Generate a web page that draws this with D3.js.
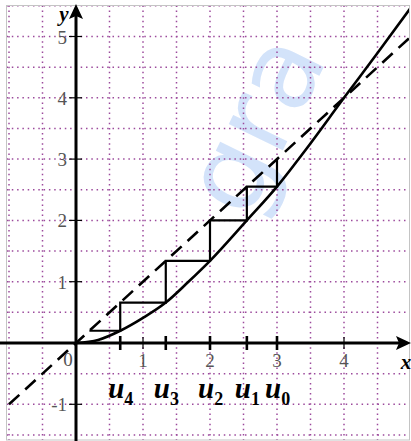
<!DOCTYPE html>
<html>
<head>
<meta charset="utf-8">
<style>
  html, body { margin: 0; padding: 0; background: #fff; }
  svg { display: block; }
  .tick-label { font-family: "Liberation Serif", "DejaVu Serif", serif; font-size: 19px; fill: #555; }
  .axis-name { font-family: "Liberation Serif", serif; font-size: 21px; font-weight: bold; font-style: italic; }
  .u-label { font-family: "Liberation Serif", serif; font-weight: bold; font-style: italic; }
</style>
</head>
<body>
<div id="chart"></div>
<script src="https://cdn.jsdelivr.net/npm/d3@7"></script>
<script>
const w = 411;
const h = 441;

// the curve y = f(x)
const curveX = [0, 0.33, 0.66, 1, 1.34, 1.67, 2, 2.55, 3, 3.42, 4, 4.5, 5.05];
const curveY = [0, 0.05, 0.2, 0.41, 0.66, 0.99, 1.34, 2.0, 2.55, 3.14, 4.0, 4.73, 5.55];

// the sequence u0, u1, ... (staircase)
const seq = [3, 2.55, 2.0, 1.34, 0.66, 0.2];
const seqNames = ["0", "1", "2", "3", "4"];

const xTicks = [1, 2, 3, 4];
const yTicks = [-1, 1, 2, 3, 4, 5];
const gridStepsX = d3.range(-2, 11).map((d) => d / 2);   // -1 .. 5
const gridStepsY = d3.range(-3, 12).map((d) => d / 2);   // -1.5 .. 5.5
const diagEnds = [-1, 5.1];

// one unit = 67px horizontally, ~61.3px vertically
const x = d3.scaleLinear().domain([0, 1]).range([76, 143]);
const y = d3.scaleLinear().domain([0, 1]).range([343, 281.7]);

const frame = { x0: 6.5, y0: 5.5, x1: 409.5, y1: 440 };

const svg = d3.select("#chart").append("svg")
  .attr("width", w)
  .attr("height", h)
  .attr("viewBox", "0 0 " + w + " " + h);

const defs = svg.append("defs");
defs.append("clipPath").attr("id", "frameclip")
  .append("rect")
  .attr("x", frame.x0).attr("y", frame.y0)
  .attr("width", frame.x1 - frame.x0).attr("height", frame.y1 - frame.y0);

// watermark
svg.append("text")
  .attr("transform", "translate(248,222) rotate(-64)")
  .style("font-family", "'DejaVu Sans', sans-serif")
  .style("font-size", "110px")
  .style("fill", "#d3e3fa")
  .text("gra");

const plot = svg.append("g").attr("clip-path", "url(#frameclip)");

// dotted grid
plot.append("g").selectAll("line")
  .data(gridStepsX)
  .enter()
  .append("line")
  .attr("x1", (d) => x(d)).attr("x2", (d) => x(d))
  .attr("y1", frame.y0).attr("y2", frame.y1)
  .attr("stroke", "#9c4a9c")
  .attr("stroke-width", 1.5)
  .attr("stroke-dasharray", "1.5,3.6");

plot.append("g").selectAll("line")
  .data(gridStepsY)
  .enter()
  .append("line")
  .attr("y1", (d) => y(d)).attr("y2", (d) => y(d))
  .attr("x1", frame.x0).attr("x2", frame.x1)
  .attr("stroke", "#9c4a9c")
  .attr("stroke-width", 1.5)
  .attr("stroke-dasharray", "1.5,3.8");

// frame
svg.append("rect")
  .attr("x", frame.x0).attr("y", frame.y0)
  .attr("width", frame.x1 - frame.x0).attr("height", frame.y1 - frame.y0)
  .attr("fill", "none")
  .attr("stroke", "#c4c4c4")
  .attr("stroke-width", 1);

// y = x dashed
plot.append("line")
  .attr("x1", x(diagEnds[0])).attr("y1", y(diagEnds[0]))
  .attr("x2", x(diagEnds[1])).attr("y2", y(diagEnds[1]))
  .attr("stroke", "#000")
  .attr("stroke-width", 2.6)
  .attr("stroke-dasharray", "14,8");

// curve
const curveLine = d3.line()
  .x((d) => x(d[0]))
  .y((d) => y(d[1]))
  .curve(d3.curveMonotoneX);

plot.append("path")
  .datum(d3.zip(curveX, curveY))
  .attr("d", curveLine)
  .attr("fill", "none")
  .attr("stroke", "#000")
  .attr("stroke-width", 2.6);

// staircase
const stairs = [[seq[0], seq[0]]];
for (let i = 0; i < seq.length - 1; i += 1) {
  stairs.push([seq[i], seq[i + 1]]);
  stairs.push([seq[i + 1], seq[i + 1]]);
}
plot.append("path")
  .datum(stairs)
  .attr("d", d3.line().x((d) => x(d[0])).y((d) => y(d[1])))
  .attr("fill", "none")
  .attr("stroke", "#000")
  .attr("stroke-width", 2.2);

// axes
svg.append("line")
  .attr("x1", 0).attr("x2", 400)
  .attr("y1", y(0)).attr("y2", y(0))
  .attr("stroke", "#000").attr("stroke-width", 3);
svg.append("path")
  .attr("d", `M411,${y(0)} L396,${y(0) - 7} L399,${y(0)} L396,${y(0) + 7} Z`)
  .attr("fill", "#000");

svg.append("line")
  .attr("x1", x(0)).attr("x2", x(0))
  .attr("y1", h).attr("y2", 14)
  .attr("stroke", "#000").attr("stroke-width", 3);
svg.append("path")
  .attr("d", `M${x(0)},4 L${x(0) - 7},19 L${x(0)},16 L${x(0) + 7},19 Z`)
  .attr("fill", "#000");

// integer ticks
svg.append("g").selectAll("line")
  .data(xTicks)
  .enter()
  .append("line")
  .attr("x1", (d) => x(d)).attr("x2", (d) => x(d))
  .attr("y1", y(0) - 6).attr("y2", y(0) + 6)
  .attr("stroke", "#000").attr("stroke-width", 1.2);

svg.append("g").selectAll("line")
  .data(yTicks)
  .enter()
  .append("line")
  .attr("y1", (d) => y(d)).attr("y2", (d) => y(d))
  .attr("x1", x(0) - 7).attr("x2", x(0) + 6)
  .attr("stroke", "#000").attr("stroke-width", 1.2);

// ticks at the sequence values
svg.append("g").selectAll("line")
  .data(seq.slice(0, seqNames.length))
  .enter()
  .append("line")
  .attr("x1", (d) => x(d)).attr("x2", (d) => x(d))
  .attr("y1", y(0) - 7).attr("y2", y(0) + 7)
  .attr("stroke", "#000").attr("stroke-width", 2.6);

// tick labels
svg.append("g").selectAll("text")
  .data(xTicks)
  .enter()
  .append("text")
  .attr("class", "tick-label")
  .attr("x", (d) => x(d))
  .attr("y", y(0) + 24)
  .attr("text-anchor", "middle")
  .text((d) => d);

svg.append("g").selectAll("text")
  .data(yTicks)
  .enter()
  .append("text")
  .attr("class", "tick-label")
  .attr("x", x(0) - 9)
  .attr("y", (d) => y(d) + 7)
  .attr("text-anchor", "end")
  .text((d) => (d < 0 ? "-" + Math.abs(d) : d));

svg.append("text")
  .attr("class", "tick-label")
  .attr("x", x(0) - 8)
  .attr("y", y(0) + 23)
  .attr("text-anchor", "middle")
  .text("0");

// axis names
svg.append("text").attr("class", "axis-name")
  .attr("x", 406).attr("y", 369)
  .attr("text-anchor", "middle")
  .text("x");
svg.append("text").attr("class", "axis-name")
  .attr("x", 64).attr("y", 21)
  .attr("text-anchor", "middle")
  .text("y");

// u labels
const uLabels = svg.append("g").selectAll("text")
  .data(seqNames)
  .enter()
  .append("text")
  .attr("class", "u-label")
  .attr("x", (d, i) => x(seq[i]) - 12)
  .attr("y", 398);
uLabels.append("tspan")
  .style("font-size", "29px")
  .text("u");
uLabels.append("tspan")
  .attr("dy", 7)
  .style("font-size", "18px")
  .style("font-style", "normal")
  .text((d) => d);
</script>
</body>
</html>
